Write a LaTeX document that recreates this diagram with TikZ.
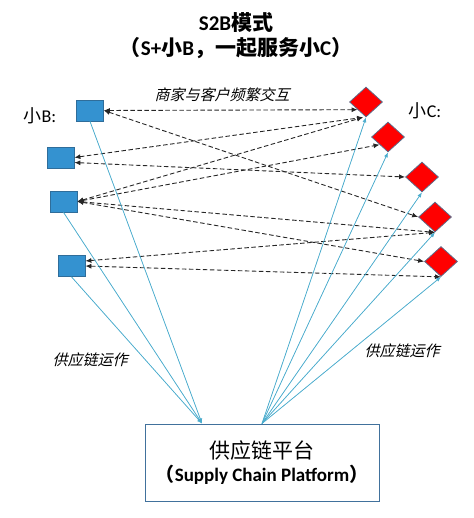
\documentclass[tikz,border=0pt]{standalone}
\usepackage{fontspec}
\setmainfont{Carlito}
\newfontfamily\cjk{Noto Sans CJK SC}
\newfontfamily\cjkit{Noto Sans CJK SC}[FakeSlant=0.25]
\usetikzlibrary{shapes.geometric,arrows.meta}

\definecolor{sqfill}{RGB}{52,146,208}
\definecolor{sqline}{RGB}{47,109,154}
\definecolor{dmline}{RGB}{90,110,140}
\definecolor{supplyline}{RGB}{75,172,205}
\definecolor{platline}{RGB}{65,113,156}

\tikzset{
smallb/.style={draw=sqline, fill=sqfill, minimum width=27pt, minimum height=21pt, inner sep=0pt},
smallc/.style={diamond, draw=dmline, fill=red, minimum width=33pt, minimum height=30pt, inner sep=0pt},
chat/.style={{Latex[length=6pt,width=5pt]}-{Latex[length=6pt,width=5pt]}, dash pattern=on 4.5pt off 2.5pt, line width=0.9pt, black!85},
supply/.style={-{Latex[length=5pt,width=4pt]}, draw=supplyline, line width=0.75pt, fill=supplyline}}
\tikzset{every picture/.style={line width=0.75pt}}

\begin{document}
\begin{tikzpicture}[x=1pt,y=1pt,yscale=-1,xscale=1]
\useasboundingbox (0,0) rectangle (473,518);

%Shape: small B squares
\node [smallb] (b1) at (90,110.5) {};
\node [smallb] (b2) at (60.5,157.5) {};
\node [smallb] (b3) at (63.5,201.5) {};
\node [smallb] (b4) at (71.5,266) {};
%Shape: small C diamonds
\node [smallc] (c1) at (366,102) {};
\node [smallc] (c2) at (388,137) {};
\node [smallc] (c3) at (422,177) {};
\node [smallc] (c4) at (435,217) {};
\node [smallc] (c5) at (441,261.5) {};
%Shape: platform box
\node [draw=platline, line width=1pt, minimum width=234pt, minimum height=77pt, inner sep=0pt, align=center] (plat) at (262,462.5)
  {\fontsize{21}{26}\selectfont\cjk 供应链平台\\[3pt]
   \fontsize{19}{22}\selectfont\bfseries{\cjk （}Supply Chain Platform{\cjk ）}};
\coordinate (plat in) at ([xshift=-60pt]plat.north);

%Straight Lines: dashed interaction
\draw [chat] (b1.east) -- (c1.south west);
\draw [chat] (b1.east) -- (c4.west);
\draw [chat] (b2.east) -- ([xshift=-3pt]c1.south);
\draw [chat] (b2.-20) -- (c3.west);
\draw [chat] (b3.east) -- ([xshift=-3pt]c1.south);
\draw [chat] (b3.east) -- (c2.south west);
\draw [chat] (b3.east) -- (c4.south);
\draw [chat] (b3.east) -- (c5.west);
\draw [chat] (b4.20) -- (c4.south);
\draw [chat] (b4.east) -- (c5.south);

%Straight Lines: supply chain
\draw [supply] (b1.south) -- (plat in);
\draw [supply] (b3.south) -- (plat in);
\draw [supply] (b4.south) -- (plat in);
\foreach \i in {1,...,5}
  \draw [supply] (plat.north) -- (c\i.south);

% Text Node
\node [align=center, font=\fontsize{21}{25}\selectfont\bfseries] (title) at (236,36)
  {S2B{\cjk\bfseries 模式}\\{\cjk\bfseries （}S+{\cjk\bfseries 小}B{\cjk\bfseries ，一起服务小}C{\cjk\bfseries ）}};
% Text Node
\node [font=\fontsize{18}{20}\selectfont] (lblb) at (40,116) {{\cjk 小}B:};
% Text Node
\node [font=\fontsize{18}{20}\selectfont] (lblc) at (425,111) {{\cjk 小}C:};
% Text Node
\node [font=\fontsize{15}{18}\selectfont\cjkit] (lblchat) at (222,95) {商家与客户频繁交互};
% Text Node
\node [font=\fontsize{15}{18}\selectfont\cjkit] (lblsl) at (90,360) {供应链运作};
% Text Node
\node [font=\fontsize{15}{18}\selectfont\cjkit] (lblsr) at (402,351) {供应链运作};

\end{tikzpicture}
\end{document}
